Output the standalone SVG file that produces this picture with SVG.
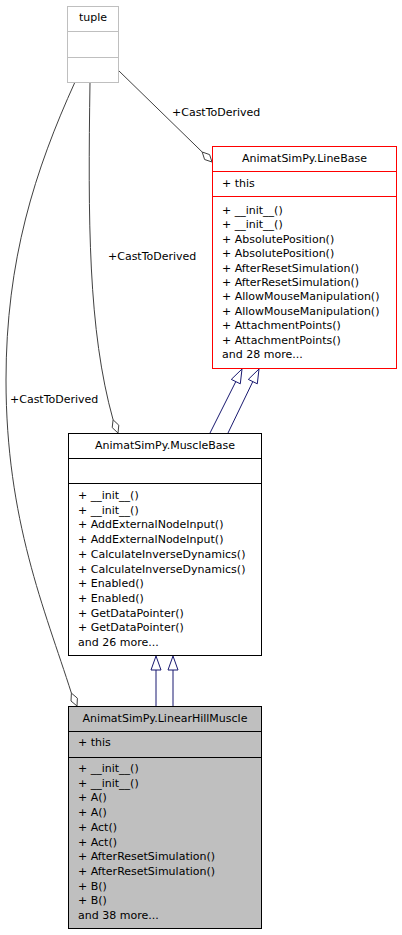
<svg xmlns="http://www.w3.org/2000/svg" width="402" height="935" viewBox="0 0 402 935">
<style>
text{font-family:"DejaVu Sans","Liberation Sans",sans-serif;font-size:11px;fill:#000}
.c{text-anchor:middle}
.box{fill:#fff;stroke:#000;stroke-width:1}
.sep{stroke:#000;stroke-width:1}
.edge{fill:none;stroke:#404040;stroke-width:1}
.dia{fill:#fff;stroke:#404040;stroke-width:1}
.inh{fill:none;stroke:#191970;stroke-width:1}
.tri{fill:#fff;stroke:#191970;stroke-width:1}
</style>
<rect width="402" height="935" fill="#fff"/>
<g id="connectors">
<path class="edge" d="M118,70 L202.2,152"/>
<polygon class="dia" points="212,162 204.6,159.5 202.2,152 209.6,154.6"/>
<text x="172" y="116">+CastToDerived</text>
<path class="edge" d="M90,82 C88,220 88,330 113.1,419.8"/>
<polygon class="dia" points="118,433 112.2,427.6 113.1,419.8 118.8,425.2"/>
<text x="108" y="260">+CastToDerived</text>
<path class="edge" d="M75,82 C35,170 6,260 6,380 C6,520 45,610 71.4,693.1"/>
<polygon class="dia" points="77,706 71,701 71.4,693.1 77.4,698.2"/>
<text x="10" y="403">+CastToDerived</text>
<path class="inh" d="M210,433 L235.8,381.6"/>
<polygon class="tri" points="242,369 240.3,383.8 231.3,379.4"/>
<path class="inh" d="M228,433 L252.8,381.6"/>
<polygon class="tri" points="259,369 257.3,383.8 248.3,379.4"/>
<path class="inh" d="M156,706 L156,670"/>
<polygon class="tri" points="156,656 161,670 151,670"/>
<path class="inh" d="M173,706 L173,670"/>
<polygon class="tri" points="173,656 178,670 168,670"/>
</g>
<g id="tuple">
<rect x="67.5" y="6.5" width="51" height="76" fill="#fff" stroke="#bfbfbf"/>
<line x1="67.5" y1="31.5" x2="118.5" y2="31.5" stroke="#bfbfbf"/>
<line x1="67.5" y1="57.5" x2="118.5" y2="57.5" stroke="#bfbfbf"/>
<text class="c" x="93" y="21">tuple</text>
</g>
<g id="LineBase">
<rect x="212.5" y="146.5" width="184" height="222" fill="#fff" stroke="#ff0000"/>
<line x1="212.5" y1="171.5" x2="396.5" y2="171.5" stroke="#ff0000"/>
<line x1="212.5" y1="196.5" x2="396.5" y2="196.5" stroke="#ff0000"/>
<text class="c" x="304.5" y="162">AnimatSimPy.LineBase</text>
<text x="222" y="187">+ this</text>
<text x="222" y="214">+ __init__()</text>
<text x="222" y="228.4">+ __init__()</text>
<text x="222" y="242.8">+ AbsolutePosition()</text>
<text x="222" y="257.2">+ AbsolutePosition()</text>
<text x="222" y="271.6">+ AfterResetSimulation()</text>
<text x="222" y="286">+ AfterResetSimulation()</text>
<text x="222" y="300.4">+ AllowMouseManipulation()</text>
<text x="222" y="314.8">+ AllowMouseManipulation()</text>
<text x="222" y="329.2">+ AttachmentPoints()</text>
<text x="222" y="343.6">+ AttachmentPoints()</text>
<text x="222" y="358">and 28 more...</text>
</g>
<g id="MuscleBase">
<rect class="box" x="68.5" y="433.5" width="193" height="222"/>
<line class="sep" x1="68.5" y1="458.5" x2="261.5" y2="458.5"/>
<line class="sep" x1="68.5" y1="483.5" x2="261.5" y2="483.5"/>
<text class="c" x="165" y="449">AnimatSimPy.MuscleBase</text>
<text x="78" y="499">+ __init__()</text>
<text x="78" y="513.7">+ __init__()</text>
<text x="78" y="528.4">+ AddExternalNodeInput()</text>
<text x="78" y="543.1">+ AddExternalNodeInput()</text>
<text x="78" y="557.8">+ CalculateInverseDynamics()</text>
<text x="78" y="572.5">+ CalculateInverseDynamics()</text>
<text x="78" y="587.2">+ Enabled()</text>
<text x="78" y="601.9">+ Enabled()</text>
<text x="78" y="616.6">+ GetDataPointer()</text>
<text x="78" y="631.3">+ GetDataPointer()</text>
<text x="78" y="646">and 26 more...</text>
</g>
<g id="LinearHillMuscle">
<rect x="68.5" y="706.5" width="193" height="222" fill="#bfbfbf" stroke="#000"/>
<line class="sep" x1="68.5" y1="731.5" x2="261.5" y2="731.5"/>
<line class="sep" x1="68.5" y1="757.5" x2="261.5" y2="757.5"/>
<text class="c" x="165" y="722">AnimatSimPy.LinearHillMuscle</text>
<text x="78" y="746">+ this</text>
<text x="78" y="772">+ __init__()</text>
<text x="78" y="786.7">+ __init__()</text>
<text x="78" y="801.4">+ A()</text>
<text x="78" y="816.1">+ A()</text>
<text x="78" y="830.8">+ Act()</text>
<text x="78" y="845.5">+ Act()</text>
<text x="78" y="860.2">+ AfterResetSimulation()</text>
<text x="78" y="874.9">+ AfterResetSimulation()</text>
<text x="78" y="889.6">+ B()</text>
<text x="78" y="904.3">+ B()</text>
<text x="78" y="919">and 38 more...</text>
</g>
</svg>
